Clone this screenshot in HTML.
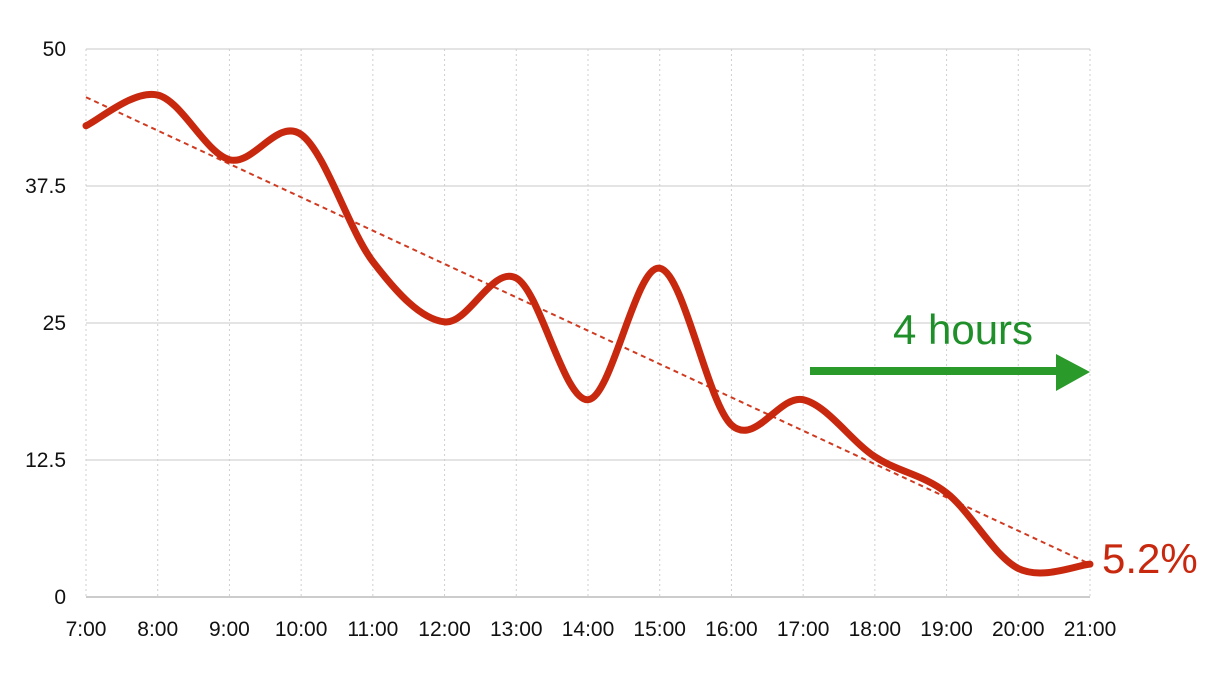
<!DOCTYPE html>
<html><head><meta charset="utf-8"><style>
body{margin:0;background:#fff;}
svg{display:block;font-family:"Liberation Sans",sans-serif;}
</style></head><body>
<svg id="chart" width="1206" height="673" viewBox="0 0 1206 673">
<g id="grid"></g>
<g id="axes"></g>
<g id="marks"></g>
<text x="963" y="344" font-size="42" fill="#1f8f2a" text-anchor="middle">4 hours</text>
<g>
<rect x="810" y="367" width="248" height="8" fill="#2a9a2a"/>
<polygon points="1056,354 1090,372 1056,391" fill="#2a9a2a"/>
</g>
<text x="1102" y="573" font-size="42" fill="#c8280e">5.2%</text>
</svg>
<script>
const categories=["7:00","8:00","9:00","10:00","11:00","12:00","13:00","14:00","15:00","16:00","17:00","18:00","19:00","20:00","21:00"];
const values=[43,45.8,39.9,42.2,30.6,25.1,29.1,18,30,15.7,18,12.8,9.5,2.6,3];
const yTicks=[0,12.5,25,37.5,50];
const yTickLabels=["0","12.5","25","37.5","50"];
const trendStart=45.6;
const trendEnd=3;
const NS="http://www.w3.org/2000/svg";
const x0=86,x1=1090,yTop=49,yBot=597;
const xs=i=>x0+i*(x1-x0)/(categories.length-1);
const ys=v=>yBot-(v/50)*(yBot-yTop);
function mk(t,a,p){const e=document.createElementNS(NS,t);for(const k in a)e.setAttribute(k,a[k]);p.appendChild(e);return e;}
const grid=document.getElementById('grid'),axes=document.getElementById('axes'),marks=document.getElementById('marks');
yTicks.forEach((v,i)=>{
  const l=mk('line',{x1:x0,x2:x1,y1:ys(v),y2:ys(v),stroke:i==0?'#999':'#c8c8c8','stroke-width':1},grid);
  
  
  const t=mk('text',{x:66,y:ys(v)+7,'font-size':21,'text-anchor':'end',fill:'#111'},axes);
  t.textContent=yTickLabels[i];
  
  
});
categories.forEach((c,i)=>{
  const l=mk('line',{x1:xs(i),x2:xs(i),y1:yTop,y2:yBot,stroke:'#cfcfcf','stroke-width':1,'stroke-dasharray':'2,3'},grid);
  
  
  const t=mk('text',{x:xs(i),y:636,'font-size':21,'text-anchor':'middle',fill:'#111'},axes);
  t.textContent=c;
  
  
});
const tr=mk('line',{x1:xs(0),y1:ys(trendStart),x2:xs(categories.length-1),y2:ys(trendEnd),stroke:'#d03a20','stroke-width':2,'stroke-dasharray':'5,4'},marks);


const P=values.map((v,i)=>[xs(i),ys(v)]);
let d=`M${P[0][0]},${P[0][1]}`;
for(let i=0;i<P.length-1;i++){
  const p0=P[i-1]||P[i],p1=P[i],p2=P[i+1],p3=P[i+2]||P[i+1];
  const c1=[p1[0]+(p2[0]-p0[0])/6,p1[1]+(p2[1]-p0[1])/6];
  const c2=[p2[0]-(p3[0]-p1[0])/6,p2[1]-(p3[1]-p1[1])/6];
  d+=` C${c1[0]},${c1[1]} ${c2[0]},${c2[1]} ${p2[0]},${p2[1]}`;
}
const ln=mk('path',{d:d,fill:'none',stroke:'#c8280e','stroke-width':7,'stroke-linejoin':'round','stroke-linecap':'round'},marks);


</script>
</body></html>
